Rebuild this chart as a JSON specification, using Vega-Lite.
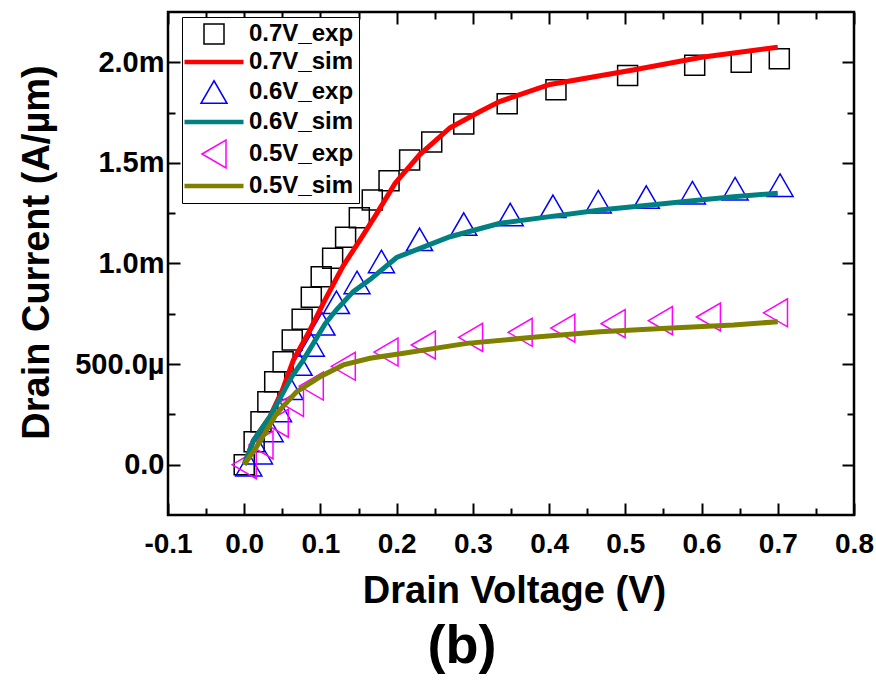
{
  "$schema": "https://vega.github.io/schema/vega-lite/v6.json",
  "width": 686,
  "height": 503,
  "autosize": {"type": "none"},
  "padding": {"left": 168, "top": 12, "right": 22, "bottom": 165},
  "background": "white",
  "title": {"text": "(b)", "orient": "bottom", "anchor": "middle", "fontSize": 54, "font": "Liberation Sans Narrow, Liberation Sans", "fontWeight": "bold", "color": "black", "dx": -49, "offset": 10},
  "config": {
    "view": {"stroke": "black", "strokeWidth": 2.5},
    "axis": {"grid": false, "domain": false, "tickColor": "black", "tickWidth": 2, "labelFont": "Liberation Sans", "labelFontWeight": "bold", "labelFontSize": 28, "labelColor": "black", "titleFont": "Liberation Sans", "titleFontWeight": "bold", "titleFontSize": 38, "titleColor": "black", "labelFlush": false, "labelOverlap": false, "labelBound": false},
    "legend": {"orient": "none", "legendX": 14, "legendY": 5, "strokeColor": "black", "fillColor": "white", "padding": 5, "labelFont": "Liberation Sans", "labelFontSize": 24, "labelFontWeight": "bold", "labelColor": "black", "symbolSize": 400, "symbolOffset": 15, "labelOffset": 23, "rowPadding": 3}
  },
  "data": {"values": [
    {"series": "0.7V_exp", "V": 0.0, "I": 0.0},
    {"series": "0.7V_exp", "V": 0.013, "I": 0.000114},
    {"series": "0.7V_exp", "V": 0.022, "I": 0.000214},
    {"series": "0.7V_exp", "V": 0.031, "I": 0.000313},
    {"series": "0.7V_exp", "V": 0.040, "I": 0.000412},
    {"series": "0.7V_exp", "V": 0.051, "I": 0.000512},
    {"series": "0.7V_exp", "V": 0.063, "I": 0.00062},
    {"series": "0.7V_exp", "V": 0.076, "I": 0.000723},
    {"series": "0.7V_exp", "V": 0.088, "I": 0.000832},
    {"series": "0.7V_exp", "V": 0.101, "I": 0.000934},
    {"series": "0.7V_exp", "V": 0.116, "I": 0.001026},
    {"series": "0.7V_exp", "V": 0.133, "I": 0.00113},
    {"series": "0.7V_exp", "V": 0.151, "I": 0.001228},
    {"series": "0.7V_exp", "V": 0.168, "I": 0.001316},
    {"series": "0.7V_exp", "V": 0.190, "I": 0.001411},
    {"series": "0.7V_exp", "V": 0.217, "I": 0.001514},
    {"series": "0.7V_exp", "V": 0.246, "I": 0.001604},
    {"series": "0.7V_exp", "V": 0.288, "I": 0.001693},
    {"series": "0.7V_exp", "V": 0.345, "I": 0.001794},
    {"series": "0.7V_exp", "V": 0.409, "I": 0.001864},
    {"series": "0.7V_exp", "V": 0.503, "I": 0.001935},
    {"series": "0.7V_exp", "V": 0.591, "I": 0.001985},
    {"series": "0.7V_exp", "V": 0.652, "I": 0.002},
    {"series": "0.7V_exp", "V": 0.702, "I": 0.002018},
    {"series": "0.6V_exp", "V": 0.006, "I": 0.0},
    {"series": "0.6V_exp", "V": 0.02, "I": 0.00006},
    {"series": "0.6V_exp", "V": 0.034, "I": 0.00017},
    {"series": "0.6V_exp", "V": 0.045, "I": 0.00027},
    {"series": "0.6V_exp", "V": 0.06, "I": 0.00038},
    {"series": "0.6V_exp", "V": 0.072, "I": 0.0005},
    {"series": "0.6V_exp", "V": 0.088, "I": 0.000595},
    {"series": "0.6V_exp", "V": 0.102, "I": 0.0007},
    {"series": "0.6V_exp", "V": 0.121, "I": 0.000807},
    {"series": "0.6V_exp", "V": 0.148, "I": 0.000906},
    {"series": "0.6V_exp", "V": 0.18, "I": 0.00101},
    {"series": "0.6V_exp", "V": 0.23, "I": 0.00112},
    {"series": "0.6V_exp", "V": 0.288, "I": 0.001196},
    {"series": "0.6V_exp", "V": 0.349, "I": 0.001243},
    {"series": "0.6V_exp", "V": 0.405, "I": 0.001284},
    {"series": "0.6V_exp", "V": 0.4645, "I": 0.001307},
    {"series": "0.6V_exp", "V": 0.5275, "I": 0.00133},
    {"series": "0.6V_exp", "V": 0.588, "I": 0.001352},
    {"series": "0.6V_exp", "V": 0.644, "I": 0.001372},
    {"series": "0.6V_exp", "V": 0.703, "I": 0.001389},
    {"series": "0.5V_exp", "V": 0.0, "I": 0.0},
    {"series": "0.5V_exp", "V": 0.022, "I": 0.000098},
    {"series": "0.5V_exp", "V": 0.042, "I": 0.000206},
    {"series": "0.5V_exp", "V": 0.062, "I": 0.00031},
    {"series": "0.5V_exp", "V": 0.088, "I": 0.000391},
    {"series": "0.5V_exp", "V": 0.13, "I": 0.000489},
    {"series": "0.5V_exp", "V": 0.186, "I": 0.00056},
    {"series": "0.5V_exp", "V": 0.235, "I": 0.000595},
    {"series": "0.5V_exp", "V": 0.297, "I": 0.000633},
    {"series": "0.5V_exp", "V": 0.362, "I": 0.000658},
    {"series": "0.5V_exp", "V": 0.418, "I": 0.000679},
    {"series": "0.5V_exp", "V": 0.484, "I": 0.000701},
    {"series": "0.5V_exp", "V": 0.546, "I": 0.000716},
    {"series": "0.5V_exp", "V": 0.609, "I": 0.000734},
    {"series": "0.5V_exp", "V": 0.697, "I": 0.000755},
    {"series": "0.7V_sim", "V": 0.0, "I": 0.0},
    {"series": "0.7V_sim", "V": 0.012, "I": 0.00012},
    {"series": "0.7V_sim", "V": 0.034, "I": 0.00024},
    {"series": "0.7V_sim", "V": 0.05, "I": 0.00037},
    {"series": "0.7V_sim", "V": 0.0645, "I": 0.00052},
    {"series": "0.7V_sim", "V": 0.084, "I": 0.000653},
    {"series": "0.7V_sim", "V": 0.106, "I": 0.000819},
    {"series": "0.7V_sim", "V": 0.13, "I": 0.00099},
    {"series": "0.7V_sim", "V": 0.152, "I": 0.001117},
    {"series": "0.7V_sim", "V": 0.174, "I": 0.001249},
    {"series": "0.7V_sim", "V": 0.198, "I": 0.001399},
    {"series": "0.7V_sim", "V": 0.23, "I": 0.00154},
    {"series": "0.7V_sim", "V": 0.27, "I": 0.001675},
    {"series": "0.7V_sim", "V": 0.31, "I": 0.001757},
    {"series": "0.7V_sim", "V": 0.335, "I": 0.001805},
    {"series": "0.7V_sim", "V": 0.401, "I": 0.00189},
    {"series": "0.7V_sim", "V": 0.51, "I": 0.001962},
    {"series": "0.7V_sim", "V": 0.6, "I": 0.002025},
    {"series": "0.7V_sim", "V": 0.7, "I": 0.002075},
    {"series": "0.6V_sim", "V": 0.0, "I": 0.0},
    {"series": "0.6V_sim", "V": 0.012, "I": 0.00012},
    {"series": "0.6V_sim", "V": 0.034, "I": 0.00024},
    {"series": "0.6V_sim", "V": 0.0623, "I": 0.000437},
    {"series": "0.6V_sim", "V": 0.0775, "I": 0.00052},
    {"series": "0.6V_sim", "V": 0.106, "I": 0.0007},
    {"series": "0.6V_sim", "V": 0.121, "I": 0.00077},
    {"series": "0.6V_sim", "V": 0.143, "I": 0.00086},
    {"series": "0.6V_sim", "V": 0.165, "I": 0.00092},
    {"series": "0.6V_sim", "V": 0.2, "I": 0.00103},
    {"series": "0.6V_sim", "V": 0.27, "I": 0.001133},
    {"series": "0.6V_sim", "V": 0.3355, "I": 0.0012},
    {"series": "0.6V_sim", "V": 0.401, "I": 0.001233},
    {"series": "0.6V_sim", "V": 0.467, "I": 0.001266},
    {"series": "0.6V_sim", "V": 0.533, "I": 0.001291},
    {"series": "0.6V_sim", "V": 0.598, "I": 0.001316},
    {"series": "0.6V_sim", "V": 0.642, "I": 0.001332},
    {"series": "0.6V_sim", "V": 0.7, "I": 0.001349},
    {"series": "0.5V_sim", "V": 0.0, "I": 0.0},
    {"series": "0.5V_sim", "V": 0.0164, "I": 0.00009},
    {"series": "0.5V_sim", "V": 0.0426, "I": 0.000255},
    {"series": "0.5V_sim", "V": 0.0689, "I": 0.000363},
    {"series": "0.5V_sim", "V": 0.0994, "I": 0.000437},
    {"series": "0.5V_sim", "V": 0.13, "I": 0.000496},
    {"series": "0.5V_sim", "V": 0.165, "I": 0.000529},
    {"series": "0.5V_sim", "V": 0.209, "I": 0.000554},
    {"series": "0.5V_sim", "V": 0.292, "I": 0.000603},
    {"series": "0.5V_sim", "V": 0.379, "I": 0.000633},
    {"series": "0.5V_sim", "V": 0.467, "I": 0.000661},
    {"series": "0.5V_sim", "V": 0.554, "I": 0.000678},
    {"series": "0.5V_sim", "V": 0.642, "I": 0.000694},
    {"series": "0.5V_sim", "V": 0.7, "I": 0.000711}
  ]},
  "resolve": {"axis": {"x": "independent", "y": "independent"}},
  "layer": [
    {
      "transform": [{"filter": "indexof(datum.series, 'exp') >= 0"}],
      "mark": {"type": "point", "filled": false, "strokeWidth": 1.5, "opacity": 1, "size": 400},
      "encoding": {
        "x": {"field": "V", "type": "quantitative", "scale": {"domain": [-0.1, 0.8], "nice": false, "zero": false},
          "axis": {"orient": "bottom", "values": [-0.1, 0, 0.1, 0.2, 0.3, 0.4, 0.5, 0.6, 0.7, 0.8], "tickSize": -12, "labelPadding": 27,
            "labelExpr": "replace(format(datum.value, '.1f'), '\u2212', '-')",
            "title": "Drain Voltage (V)", "titleX": 346, "titleY": 87, "titleBaseline": "alphabetic"}},
        "y": {"field": "I", "type": "quantitative", "scale": {"domain": [-0.00025, 0.00225], "nice": false, "zero": false},
          "axis": {"orient": "left", "values": [0, 0.0005, 0.001, 0.0015, 0.002], "tickSize": -12, "labelPadding": 16, "labelFontSize": 29,
            "labelExpr": "datum.value == 0 ? '0.0' : (datum.value < 0.00099 ? format(datum.value * 1000000, '.1f') + 'µ' : format(datum.value * 1000, '.1f') + 'm')",
            "title": "Drain Current (A/µm)", "titleX": -120, "titleY": 240, "titleBaseline": "alphabetic"}},
        "color": {"field": "series", "type": "nominal",
          "scale": {"domain": ["0.7V_exp", "0.7V_sim", "0.6V_exp", "0.6V_sim", "0.5V_exp", "0.5V_sim"],
                    "range": ["#000000", "#FF0000", "#0000FF", "#008080", "#FF00FF", "#808000"]},
          "legend": {"title": null}},
        "shape": {"field": "series", "type": "nominal",
          "scale": {"domain": ["0.7V_exp", "0.7V_sim", "0.6V_exp", "0.6V_sim", "0.5V_exp", "0.5V_sim"],
                    "range": ["M-1,-1H1V1H-1Z",
                              "M-2.95,-0.15H2.95M-2.95,-0.05H2.95M-2.95,0.05H2.95M-2.95,0.15H2.95",
                              "M0,-1.125L1.3,1.125L-1.3,1.125Z",
                              "M-2.95,-0.15H2.95M-2.95,-0.05H2.95M-2.95,0.05H2.95M-2.95,0.15H2.95",
                              "M-1.2,0L1.2,-1.4L1.2,1.4Z",
                              "M-2.95,-0.15H2.95M-2.95,-0.05H2.95M-2.95,0.05H2.95M-2.95,0.15H2.95"]},
          "legend": {"title": null}}
      }
    },
    {
      "transform": [{"filter": "indexof(datum.series, 'sim') >= 0"}],
      "mark": {"type": "line", "strokeWidth": 5},
      "encoding": {
        "x": {"field": "V", "type": "quantitative", "scale": {"domain": [-0.1, 0.8], "nice": false, "zero": false},
          "axis": {"orient": "top", "values": [-0.1, 0, 0.1, 0.2, 0.3, 0.4, 0.5, 0.6, 0.7, 0.8], "tickSize": -12, "labels": false, "title": null}},
        "y": {"field": "I", "type": "quantitative", "scale": {"domain": [-0.00025, 0.00225], "nice": false, "zero": false},
          "axis": {"orient": "right", "values": [0, 0.0005, 0.001, 0.0015, 0.002], "tickSize": -12, "labels": false, "title": null}},
        "color": {"field": "series", "type": "nominal", "legend": null},
        "order": {"field": "V", "type": "quantitative"}
      }
    },
    {
      "mark": {"type": "point", "opacity": 0},
      "encoding": {
        "x": {"field": "V", "type": "quantitative", "scale": {"domain": [-0.1, 0.8], "nice": false, "zero": false},
          "axis": {"orient": "bottom", "values": [-0.05, 0.05, 0.15, 0.25, 0.35, 0.45, 0.55, 0.65, 0.75], "tickSize": -7, "labels": false, "title": null}},
        "y": {"field": "I", "type": "quantitative", "scale": {"domain": [-0.00025, 0.00225], "nice": false, "zero": false},
          "axis": {"orient": "left", "values": [0.00025, 0.00075, 0.00125, 0.00175], "tickSize": -7, "labels": false, "title": null}}
      }
    },
    {
      "mark": {"type": "point", "opacity": 0},
      "encoding": {
        "x": {"field": "V", "type": "quantitative", "scale": {"domain": [-0.1, 0.8], "nice": false, "zero": false},
          "axis": {"orient": "top", "values": [-0.05, 0.05, 0.15, 0.25, 0.35, 0.45, 0.55, 0.65, 0.75], "tickSize": -7, "labels": false, "title": null}},
        "y": {"field": "I", "type": "quantitative", "scale": {"domain": [-0.00025, 0.00225], "nice": false, "zero": false},
          "axis": {"orient": "right", "values": [0.00025, 0.00075, 0.00125, 0.00175], "tickSize": -7, "labels": false, "title": null}}
      }
    }
  ]
}
